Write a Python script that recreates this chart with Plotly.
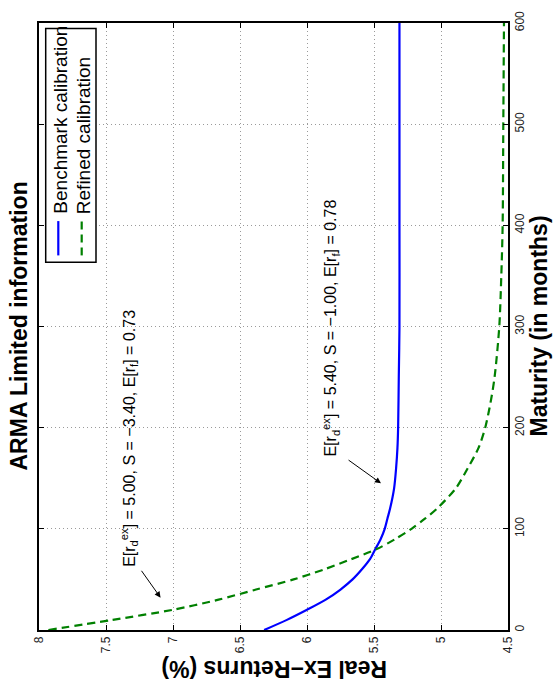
import plotly.graph_objects as go

# ---- data ----
maturity_bench = [0, 10, 20, 30, 40, 50, 60, 70, 80, 90, 100, 110, 120, 140, 160, 180, 200, 250, 300, 400, 500, 600]
returns_bench = [6.32, 6.15, 6.00, 5.86, 5.75, 5.66, 5.59, 5.53, 5.49, 5.45, 5.42, 5.40, 5.38, 5.35, 5.335, 5.325,
                 5.32, 5.315, 5.31, 5.31, 5.31, 5.31]

maturity_ref = [0, 10, 20, 30, 40, 50, 60, 70, 80, 90, 100, 110, 120, 140, 160, 180, 200, 225, 250, 300, 350, 400, 500, 600]
returns_ref = [7.93, 7.45, 7.00, 6.66, 6.38, 6.10, 5.87, 5.67, 5.48, 5.34, 5.22, 5.12, 5.03, 4.89, 4.80, 4.72,
               4.67, 4.63, 4.60, 4.565, 4.55, 4.54, 4.535, 4.53]

return_ticks = [8, 7.5, 7, 6.5, 6, 5.5, 5, 4.5]
return_ticktext = ["8", "7.5", "7", "6.5", "6", "5.5", "5", "4.5"]
maturity_ticks = [0, 100, 200, 300, 400, 500, 600]

series_names = ["Benchmark calibration", "Refined calibration"]
title_text = "ARMA Limited information"
xlabel_text = "Real Ex\u2212Returns (%)"
ylabel_text = "Maturity (in months)"
note_ref = "E[r<sub>d</sub><sup>ex</sup>] = 5.00, S = \u22123.40, E[r<sub>f</sub>] = 0.73"
note_bench = "E[r<sub>d</sub><sup>ex</sup>] = 5.40, S = \u22121.00, E[r<sub>f</sub>] = 0.78"

FONT = "Liberation Sans, Arial, Helvetica, sans-serif"
BLUE = "#0000ff"
GREEN = "#008000"

fig = go.Figure()
fig.add_trace(go.Scatter(x=returns_bench, y=maturity_bench, mode="lines", name=series_names[0],
                         line=dict(color=BLUE, width=2.2, shape="spline", smoothing=0.8)))
fig.add_trace(go.Scatter(x=returns_ref, y=maturity_ref, mode="lines", name=series_names[1],
                         line=dict(color=GREEN, width=2.2, dash="8px,5px", shape="spline", smoothing=0.8)))

# plot area in pixels: x 39..508, y 11..630
L, R, T, B = 39, 508, 11, 630
def px(xp):
    return (xp - L) / (R - L)
def py(yp):
    return (B - yp) / (B - T)

annotations = [
    dict(text="<b>%s</b>" % title_text, xref="paper", yref="paper", x=px(18), y=0.5,
         textangle=-90, showarrow=False, font=dict(size=23, color="black", family=FONT),
         xanchor="center", yanchor="middle"),
    dict(text="<b>%s</b>" % xlabel_text, xref="paper", yref="paper", x=px(274), y=py(670),
         textangle=180, showarrow=False, font=dict(size=23, color="black", family=FONT),
         xanchor="center", yanchor="middle"),
    dict(text="<b>%s</b>" % ylabel_text, xref="paper", yref="paper", x=px(538), y=0.5,
         textangle=-90, showarrow=False, font=dict(size=23, color="black", family=FONT),
         xanchor="center", yanchor="middle"),
    dict(text=note_ref, x=7.328, y=189, xref="x", yref="y", textangle=-90, showarrow=False,
         font=dict(size=16, color="black", family=FONT), xanchor="center", yanchor="middle"),
    dict(text=note_bench, x=5.828, y=298, xref="x", yref="y", textangle=-90, showarrow=False,
         font=dict(size=16, color="black", family=FONT), xanchor="center", yanchor="middle"),
    dict(text="", x=7.093, y=32, ax=7.243, ay=60, xref="x", yref="y", axref="x", ayref="y",
         showarrow=True, arrowhead=2, arrowsize=1.2, arrowwidth=1, arrowcolor="black"),
    dict(text="", x=5.448, y=145, ax=5.701, ay=169, xref="x", yref="y", axref="x", ayref="y",
         showarrow=True, arrowhead=2, arrowsize=1.2, arrowwidth=1, arrowcolor="black"),
    # legend texts
    dict(text=series_names[0], xref="paper", yref="paper", x=px(60.5), y=py(208),
         textangle=-90, showarrow=False, font=dict(size=19, color="black", family=FONT),
         xanchor="center", yanchor="bottom"),
    dict(text=series_names[1], xref="paper", yref="paper", x=px(83.5), y=py(208),
         textangle=-90, showarrow=False, font=dict(size=19, color="black", family=FONT),
         xanchor="center", yanchor="bottom"),
]

shapes = [
    dict(type="rect", xref="paper", yref="paper", x0=px(45.7), x1=px(96), y0=py(255), y1=py(16.7),
         line=dict(color="black", width=1.5), fillcolor="white", layer="above"),
    dict(type="line", xref="paper", yref="paper", x0=px(58.3), x1=px(58.3), y0=py(248), y1=py(213),
         line=dict(color=BLUE, width=2.2), layer="above"),
    dict(type="line", xref="paper", yref="paper", x0=px(81.7), x1=px(81.7), y0=py(248), y1=py(213),
         line=dict(color=GREEN, width=2.2, dash="8px,5px"), layer="above"),
]

fig.update_layout(
    width=553, height=690,
    margin=dict(l=L, r=553 - R, t=T, b=690 - B, pad=0),
    paper_bgcolor="white", plot_bgcolor="white",
    showlegend=False,
    font=dict(family=FONT, color="black"),
    annotations=annotations,
    shapes=shapes,
)
fig.update_xaxes(range=[8, 4.5], tickvals=return_ticks, ticktext=return_ticktext, tickangle=-90,
                 tickfont=dict(size=12, color="#222222", family=FONT),
                 showgrid=True, gridcolor="#9a9a9a", griddash="1px,3px", gridwidth=1,
                 showline=True, linecolor="black", linewidth=1.5, mirror="ticks",
                 ticks="inside", ticklen=5, tickcolor="black", zeroline=False)
fig.update_yaxes(range=[0, 600], tickvals=maturity_ticks, side="right", tickangle=-90,
                 tickfont=dict(size=12, color="#222222", family=FONT),
                 showgrid=True, gridcolor="#9a9a9a", griddash="1px,3px", gridwidth=1,
                 showline=True, linecolor="black", linewidth=1.5, mirror="ticks",
                 ticks="inside", ticklen=5, tickcolor="black", zeroline=False)

fig.write_html("out.html")
